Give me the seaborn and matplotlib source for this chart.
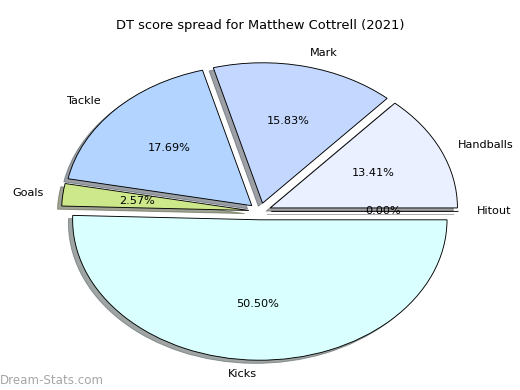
import matplotlib.pyplot as plt
import seaborn as sns

categories = ["Hitout", "Handballs", "Mark", "Tackle", "Goals", "Kicks"]
share = [0.00, 13.41, 15.83, 17.69, 2.57, 50.50]
colors = ["#f4f7ff", "#eaf0ff", "#c4d8ff", "#b3d4ff", "#cde88a", "#d9ffff"]

sns.set_style("white")
plt.rcParams["font.family"] = ["DejaVu Sans"]
plt.rcParams["text.color"] = "black"

fig, ax = plt.subplots(figsize=(6.4, 4.8), dpi=81.25)
fig.subplots_adjust(left=0.05, right=0.95, top=0.908, bottom=0.008)

ax.pie(
    share,
    labels=categories,
    colors=colors,
    explode=[0.06] * len(share),
    shadow=True,
    autopct="%1.2f%%",
    startangle=0,
    wedgeprops={"edgecolor": "black", "linewidth": 0.8},
)
# stretch the pie to fill the axes, like the original
ax.set_aspect("auto")
ax.set_title("DT score spread for Matthew Cottrell (2021)", fontsize=11.5)

fig.text(0.0, 0.015, "Dream-Stats.com", color="gray", alpha=0.7, fontsize=10.5)

fig.savefig("out.png", dpi=81.25)
